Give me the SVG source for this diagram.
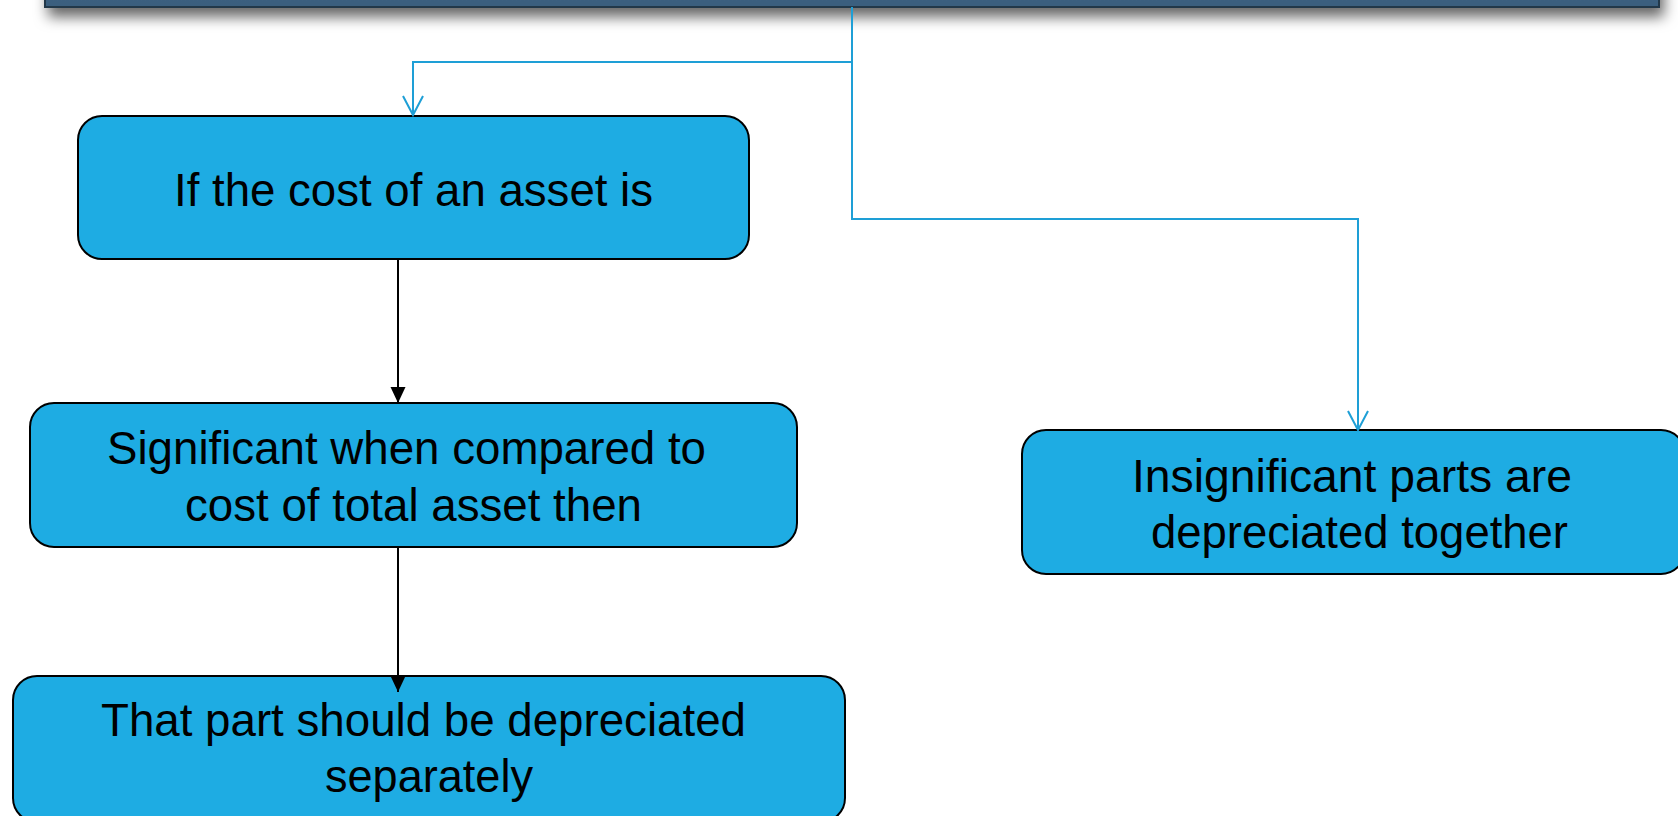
<svg xmlns="http://www.w3.org/2000/svg" width="1678" height="816" viewBox="0 0 1678 816">
  <style>
    .box { fill: #1EACE3; stroke: #000000; stroke-width: 2; }
    .lbl { font-family: "Liberation Sans Narrow", "Liberation Sans", Arial, sans-serif; font-size: 46px; fill: #000000; }
    .blue { fill: none; stroke: #1E9FD6; stroke-width: 2; }
    .black { fill: none; stroke: #000000; stroke-width: 2; }
  </style>
  <defs>
    <filter id="shadow" x="-5%" y="-50%" width="110%" height="300%">
      <feDropShadow dx="4" dy="9" stdDeviation="7" flood-color="#000000" flood-opacity="0.6"/>
    </filter>
    <linearGradient id="barGrad" x1="0" y1="0" x2="0" y2="1">
      <stop offset="0" stop-color="#46698A"/>
      <stop offset="1" stop-color="#3A5E7E"/>
    </linearGradient>
    <marker id="openArrow" markerUnits="userSpaceOnUse" markerWidth="24" markerHeight="24" refX="0" refY="0" orient="auto" overflow="visible">
      <path d="M-19,-10 L0,0 L-19,10" fill="none" stroke="#1E9FD6" stroke-width="2"/>
    </marker>
    <marker id="solidArrow" markerUnits="userSpaceOnUse" markerWidth="20" markerHeight="20" refX="0" refY="0" orient="auto" overflow="visible">
      <path d="M-16,-7.5 L0,0 L-16,7.5 Z" fill="#000000"/>
    </marker>
  </defs>
  <rect width="1678" height="816" fill="#FFFFFF"/>

  <g id="title-bar">
    <rect x="45" y="-60" width="1614" height="67" fill="url(#barGrad)" stroke="#22374A" stroke-width="2" filter="url(#shadow)"/>
  </g>

  <g id="node-cost">
    <rect class="box" x="78" y="116" width="671" height="143" rx="24" ry="24"/>
    <text class="lbl" x="174" y="206" textLength="479" lengthAdjust="spacingAndGlyphs">If the cost of an asset is</text>
  </g>

  <g id="node-significant">
    <rect class="box" x="30" y="403" width="767" height="144" rx="24" ry="24"/>
    <text class="lbl" x="107" y="464" textLength="599" lengthAdjust="spacingAndGlyphs">Significant when compared to</text>
    <text class="lbl" x="185" y="521" textLength="457" lengthAdjust="spacingAndGlyphs">cost of total asset then</text>
  </g>

  <g id="node-separately">
    <rect class="box" x="13" y="676" width="832" height="146" rx="24" ry="24"/>
    <text class="lbl" x="101" y="736" textLength="645" lengthAdjust="spacingAndGlyphs">That part should be depreciated</text>
    <text class="lbl" x="325" y="792" textLength="208" lengthAdjust="spacingAndGlyphs">separately</text>
  </g>

  <g id="node-insignificant">
    <rect class="box" x="1022" y="430" width="663" height="144" rx="24" ry="24"/>
    <text class="lbl" x="1132" y="492" textLength="440" lengthAdjust="spacingAndGlyphs">Insignificant parts are</text>
    <text class="lbl" x="1151" y="548" textLength="417" lengthAdjust="spacingAndGlyphs">depreciated together</text>
  </g>

  <g id="connectors">
    <path class="blue" d="M852,7 V62 H413 V115" marker-end="url(#openArrow)"/>
    <path class="blue" d="M852,62 V219 H1358 V430" marker-end="url(#openArrow)"/>
    <path class="black" d="M398,259 V403" marker-end="url(#solidArrow)"/>
    <path class="black" d="M398,547 V692" marker-end="url(#solidArrow)"/>
  </g>
</svg>
